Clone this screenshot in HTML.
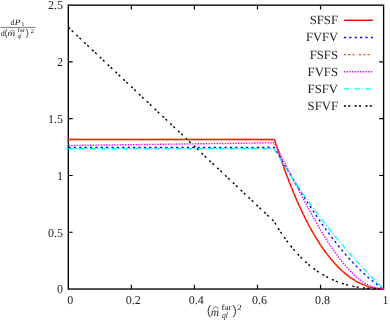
<!DOCTYPE html>
<html><head><meta charset="utf-8"><style>
html,body{margin:0;padding:0;background:#fff;}
body{width:390px;height:320px;position:relative;overflow:hidden;}
svg text{font-family:"Liberation Serif",serif;fill:#1a1a1a;}
svg text.t{font-size:12px;fill:#222;}
svg text.lg{font-size:12.6px;fill:#222;}
svg .lab text{fill:#222;}
</style></head><body>
<svg width="390" height="320" viewBox="0 0 390 320" style="position:absolute;left:0;top:0;will-change:transform;text-rendering:geometricPrecision">
<rect width="390" height="320" fill="#fff"/>
<rect x="68.3" y="5.15" width="315.30" height="283.90" fill="none" stroke="#000" stroke-width="1.35"/>
<text x="70.20" y="304.1" text-anchor="middle" class="t">0</text>
<text x="133.26" y="304.1" text-anchor="middle" class="t">0.2</text>
<text x="196.32" y="304.1" text-anchor="middle" class="t">0.4</text>
<text x="259.38" y="304.1" text-anchor="middle" class="t">0.6</text>
<text x="322.44" y="304.1" text-anchor="middle" class="t">0.8</text>
<text x="385.50" y="304.1" text-anchor="middle" class="t">1</text>
<text x="62.9" y="293.35" text-anchor="end" class="t">0</text>
<text x="62.9" y="236.57" text-anchor="end" class="t">0.5</text>
<text x="62.9" y="179.79" text-anchor="end" class="t">1</text>
<text x="62.9" y="123.01" text-anchor="end" class="t">1.5</text>
<text x="62.9" y="66.23" text-anchor="end" class="t">2</text>
<text x="62.9" y="9.45" text-anchor="end" class="t">2.5</text>
<path d="M131.36,289.05 v-4.4 M131.36,5.15 v4.4 M194.42,289.05 v-4.4 M194.42,5.15 v4.4 M257.48,289.05 v-4.4 M257.48,5.15 v4.4 M320.54,289.05 v-4.4 M320.54,5.15 v4.4 M68.3,232.27 h4.4 M383.6,232.27 h-4.4 M68.3,175.49 h4.4 M383.6,175.49 h-4.4 M68.3,118.71 h4.4 M383.6,118.71 h-4.4 M68.3,61.93 h4.4 M383.6,61.93 h-4.4" stroke="#000" stroke-width="1.2" fill="none"/>
<path d="M68.50,139.54 L274.51,139.54 L275.87,143.84 L277.23,148.06 L278.60,152.20 L279.96,156.26 L281.32,160.24 L282.68,164.14 L284.05,167.96 L285.41,171.71 L286.77,175.39 L288.13,178.99 L289.50,182.52 L290.86,185.97 L292.22,189.36 L293.58,192.67 L294.95,195.92 L296.31,199.09 L297.67,202.20 L299.03,205.24 L300.40,208.21 L301.76,211.12 L303.12,213.97 L304.48,216.75 L305.84,219.46 L307.21,222.12 L308.57,224.71 L309.93,227.24 L311.29,229.71 L312.66,232.12 L314.02,234.48 L315.38,236.77 L316.74,239.01 L318.11,241.19 L319.47,243.31 L320.83,245.37 L322.19,247.39 L323.56,249.34 L324.92,251.24 L326.28,253.09 L327.64,254.89 L329.00,256.63 L330.37,258.32 L331.73,259.96 L333.09,261.55 L334.45,263.09 L335.82,264.58 L337.18,266.02 L338.54,267.41 L339.90,268.75 L341.27,270.05 L342.63,271.29 L343.99,272.49 L345.35,273.65 L346.72,274.76 L348.08,275.82 L349.44,276.84 L350.80,277.81 L352.17,278.74 L353.53,279.62 L354.89,280.46 L356.25,281.26 L357.61,282.02 L358.98,282.73 L360.34,283.40 L361.70,284.03 L363.06,284.62 L364.43,285.17 L365.79,285.68 L367.15,286.15 L368.51,286.58 L369.88,286.97 L371.24,287.32 L372.60,287.64 L373.96,287.91 L375.33,288.15 L376.69,288.35 L378.05,288.51 L379.41,288.64 L380.78,288.73 L382.14,288.78 L383.50,288.80" fill="none" stroke="#ff0000" stroke-width="1.4" stroke-linejoin="round"/>
<path d="M68.50,147.54 L274.20,147.54 L275.56,149.86 L276.93,152.17 L278.29,154.48 L279.66,156.79 L281.03,159.10 L282.39,161.40 L283.76,163.70 L285.13,165.99 L286.49,168.27 L287.86,170.55 L289.22,172.82 L290.59,175.08 L291.96,177.33 L293.32,179.58 L294.69,181.81 L296.06,184.04 L297.42,186.26 L298.79,188.46 L300.15,190.66 L301.52,192.84 L302.89,195.01 L304.25,197.17 L305.62,199.31 L306.99,201.44 L308.35,203.56 L309.72,205.66 L311.09,207.75 L312.45,209.82 L313.82,211.88 L315.18,213.92 L316.55,215.95 L317.92,217.96 L319.28,219.95 L320.65,221.92 L322.02,223.88 L323.38,225.82 L324.75,227.74 L326.11,229.64 L327.48,231.52 L328.85,233.38 L330.21,235.23 L331.58,237.05 L332.95,238.85 L334.31,240.64 L335.68,242.40 L337.05,244.14 L338.41,245.86 L339.78,247.55 L341.14,249.23 L342.51,250.88 L343.88,252.51 L345.24,254.12 L346.61,255.70 L347.98,257.26 L349.34,258.80 L350.71,260.31 L352.07,261.80 L353.44,263.26 L354.81,264.70 L356.17,266.12 L357.54,267.50 L358.91,268.87 L360.27,270.20 L361.64,271.52 L363.01,272.80 L364.37,274.06 L365.74,275.29 L367.10,276.50 L368.47,277.68 L369.84,278.83 L371.20,279.95 L372.57,281.05 L373.94,282.12 L375.30,283.16 L376.67,284.17 L378.03,285.15 L379.40,286.11 L380.77,287.03 L382.13,287.93 L383.50,288.80" fill="none" stroke="#0000ff" stroke-width="1.4" stroke-dasharray="2.15,3.23" stroke-linejoin="round"/>
<path d="M68.50,139.54 L274.51,139.54 L275.87,143.84 L277.23,148.06 L278.60,152.20 L279.96,156.26 L281.32,160.24 L282.68,164.14 L284.05,167.96 L285.41,171.71 L286.77,175.39 L288.13,178.99 L289.50,182.52 L290.86,185.97 L292.22,189.36 L293.58,192.67 L294.95,195.92 L296.31,199.09 L297.67,202.20 L299.03,205.24 L300.40,208.21 L301.76,211.12 L303.12,213.97 L304.48,216.75 L305.84,219.46 L307.21,222.12 L308.57,224.71 L309.93,227.24 L311.29,229.71 L312.66,232.12 L314.02,234.48 L315.38,236.77 L316.74,239.01 L318.11,241.19 L319.47,243.31 L320.83,245.37 L322.19,247.39 L323.56,249.34 L324.92,251.24 L326.28,253.09 L327.64,254.89 L329.00,256.63 L330.37,258.32 L331.73,259.96 L333.09,261.55 L334.45,263.09 L335.82,264.58 L337.18,266.02 L338.54,267.41 L339.90,268.75 L341.27,270.05 L342.63,271.29 L343.99,272.49 L345.35,273.65 L346.72,274.76 L348.08,275.82 L349.44,276.84 L350.80,277.81 L352.17,278.74 L353.53,279.62 L354.89,280.46 L356.25,281.26 L357.61,282.02 L358.98,282.73 L360.34,283.40 L361.70,284.03 L363.06,284.62 L364.43,285.17 L365.79,285.68 L367.15,286.15 L368.51,286.58 L369.88,286.97 L371.24,287.32 L372.60,287.64 L373.96,287.91 L375.33,288.15 L376.69,288.35 L378.05,288.51 L379.41,288.64 L380.78,288.73 L382.14,288.78 L383.50,288.80" fill="none" stroke="#ff4d00" stroke-width="1.4" stroke-dasharray="2.15,2.15,2.15,2.15,2.15,4.31" stroke-linejoin="round"/>
<path d="M68.50,145.50 L274.20,142.79 L275.56,145.34 L276.93,147.91 L278.29,150.50 L279.66,153.10 L281.03,155.72 L282.39,158.35 L283.76,160.99 L285.13,163.63 L286.49,166.29 L287.86,168.94 L289.22,171.60 L290.59,174.26 L291.96,176.92 L293.32,179.58 L294.69,182.23 L296.06,184.88 L297.42,187.52 L298.79,190.16 L300.15,192.78 L301.52,195.39 L302.89,197.99 L304.25,200.58 L305.62,203.15 L306.99,205.70 L308.35,208.23 L309.72,210.75 L311.09,213.24 L312.45,215.72 L313.82,218.17 L315.18,220.59 L316.55,222.99 L317.92,225.36 L319.28,227.71 L320.65,230.02 L322.02,232.31 L323.38,234.56 L324.75,236.79 L326.11,238.98 L327.48,241.13 L328.85,243.25 L330.21,245.33 L331.58,247.38 L332.95,249.38 L334.31,251.35 L335.68,253.28 L337.05,255.16 L338.41,257.00 L339.78,258.80 L341.14,260.56 L342.51,262.27 L343.88,263.93 L345.24,265.55 L346.61,267.12 L347.98,268.65 L349.34,270.12 L350.71,271.54 L352.07,272.92 L353.44,274.24 L354.81,275.50 L356.17,276.72 L357.54,277.88 L358.91,278.99 L360.27,280.04 L361.64,281.04 L363.01,281.98 L364.37,282.86 L365.74,283.68 L367.10,284.45 L368.47,285.15 L369.84,285.80 L371.20,286.38 L372.57,286.90 L373.94,287.36 L375.30,287.76 L376.67,288.10 L378.03,288.37 L379.40,288.57 L380.77,288.72 L382.13,288.79 L383.50,288.80" fill="none" stroke="#ff00ff" stroke-width="1.4" stroke-dasharray="1.40,1.29" stroke-linejoin="round"/>
<path d="M68.50,148.82 L274.20,148.82 L275.56,151.13 L276.93,153.42 L278.29,155.69 L279.66,157.94 L281.03,160.17 L282.39,162.38 L283.76,164.58 L285.13,166.76 L286.49,168.93 L287.86,171.07 L289.22,173.20 L290.59,175.32 L291.96,177.41 L293.32,179.49 L294.69,181.56 L296.06,183.61 L297.42,185.64 L298.79,187.66 L300.15,189.66 L301.52,191.65 L302.89,193.62 L304.25,195.58 L305.62,197.53 L306.99,199.46 L308.35,201.37 L309.72,203.27 L311.09,205.16 L312.45,207.04 L313.82,208.90 L315.18,210.74 L316.55,212.58 L317.92,214.40 L319.28,216.21 L320.65,218.00 L322.02,219.79 L323.38,221.56 L324.75,223.31 L326.11,225.06 L327.48,226.79 L328.85,228.51 L330.21,230.22 L331.58,231.92 L332.95,233.61 L334.31,235.28 L335.68,236.95 L337.05,238.60 L338.41,240.24 L339.78,241.87 L341.14,243.49 L342.51,245.10 L343.88,246.70 L345.24,248.28 L346.61,249.86 L347.98,251.43 L349.34,252.98 L350.71,254.53 L352.07,256.06 L353.44,257.59 L354.81,259.10 L356.17,260.61 L357.54,262.11 L358.91,263.59 L360.27,265.07 L361.64,266.54 L363.01,267.99 L364.37,269.44 L365.74,270.88 L367.10,272.31 L368.47,273.74 L369.84,275.15 L371.20,276.55 L372.57,277.95 L373.94,279.33 L375.30,280.71 L376.67,282.08 L378.03,283.44 L379.40,284.79 L380.77,286.14 L382.13,287.47 L383.50,288.80" fill="none" stroke="#00ffff" stroke-width="1.4" stroke-dasharray="5.38,2.15,1.08,2.15" stroke-linejoin="round"/>
<path d="M68.50,27.50 L274.20,221.58 L275.56,223.90 L276.93,226.17 L278.29,228.37 L279.66,230.52 L281.03,232.62 L282.39,234.66 L283.76,236.64 L285.13,238.58 L286.49,240.46 L287.86,242.29 L289.22,244.07 L290.59,245.80 L291.96,247.49 L293.32,249.12 L294.69,250.72 L296.06,252.26 L297.42,253.76 L298.79,255.22 L300.15,256.64 L301.52,258.02 L302.89,259.35 L304.25,260.64 L305.62,261.90 L306.99,263.11 L308.35,264.29 L309.72,265.44 L311.09,266.54 L312.45,267.61 L313.82,268.65 L315.18,269.65 L316.55,270.61 L317.92,271.55 L319.28,272.45 L320.65,273.32 L322.02,274.16 L323.38,274.97 L324.75,275.75 L326.11,276.51 L327.48,277.23 L328.85,277.92 L330.21,278.59 L331.58,279.24 L332.95,279.85 L334.31,280.44 L335.68,281.01 L337.05,281.55 L338.41,282.06 L339.78,282.56 L341.14,283.03 L342.51,283.48 L343.88,283.91 L345.24,284.31 L346.61,284.70 L347.98,285.06 L349.34,285.40 L350.71,285.73 L352.07,286.04 L353.44,286.32 L354.81,286.59 L356.17,286.84 L357.54,287.08 L358.91,287.30 L360.27,287.50 L361.64,287.68 L363.01,287.85 L364.37,288.01 L365.74,288.15 L367.10,288.27 L368.47,288.39 L369.84,288.48 L371.20,288.57 L372.57,288.64 L373.94,288.70 L375.30,288.75 L376.67,288.78 L378.03,288.81 L379.40,288.82 L380.77,288.83 L382.13,288.82 L383.50,288.80" fill="none" stroke="#000000" stroke-width="1.4" stroke-dasharray="2.15,2.15,2.15,4.31" stroke-linejoin="round"/>
<path d="M343.9,20.30 L372.9,20.30" fill="none" stroke="#ff0000" stroke-width="1.4"/>
<text x="309.70" y="24.20" class="lg" textLength="28.3" lengthAdjust="spacingAndGlyphs">SFSF</text>
<path d="M343.9,37.45 L372.9,37.45" fill="none" stroke="#0000ff" stroke-width="1.4" stroke-dasharray="2.15,3.23"/>
<text x="306.00" y="41.35" class="lg" textLength="32.0" lengthAdjust="spacingAndGlyphs">FVFV</text>
<path d="M343.9,54.60 L372.9,54.60" fill="none" stroke="#ff4d00" stroke-width="1.4" stroke-dasharray="2.15,2.15,2.15,2.15,2.15,4.31"/>
<text x="309.70" y="58.50" class="lg" textLength="28.3" lengthAdjust="spacingAndGlyphs">FSFS</text>
<path d="M343.9,71.75 L372.9,71.75" fill="none" stroke="#ff00ff" stroke-width="1.4" stroke-dasharray="1.40,1.29"/>
<text x="307.60" y="75.65" class="lg" textLength="30.4" lengthAdjust="spacingAndGlyphs">FVFS</text>
<path d="M343.9,88.90 L372.9,88.90" fill="none" stroke="#00ffff" stroke-width="1.4" stroke-dasharray="5.38,2.15,1.08,2.15"/>
<text x="307.60" y="92.80" class="lg" textLength="30.4" lengthAdjust="spacingAndGlyphs">FSFV</text>
<path d="M343.9,106.05 L372.9,106.05" fill="none" stroke="#000000" stroke-width="1.4" stroke-dasharray="2.15,2.15,2.15,4.31"/>
<text x="307.60" y="109.95" class="lg" textLength="30.4" lengthAdjust="spacingAndGlyphs">SFVF</text>
<g class="lab">
<text x="10.4" y="25.2" font-size="8">d</text>
<text x="14.8" y="25.2" font-size="8" font-style="italic" textLength="5.6" lengthAdjust="spacingAndGlyphs">P</text>
<text x="21.4" y="26.4" font-size="5.8">1</text>
<path d="M0.5,27.4 H35.4" stroke="#111" stroke-width="0.55"/>
<text x="0.7" y="36.1" font-size="8">d</text>
<path d="M6.6,29.0 Q3.80,33.40 6.6,37.8" fill="none" stroke="#111" stroke-width="0.7"/>
<text x="7.3" y="36.1" font-size="8" font-style="italic" textLength="8.0" lengthAdjust="spacingAndGlyphs">m</text>
<path d="M9.9,31.5 L12.5,30.2 L15.1,31.5" stroke="#111" stroke-width="0.5" fill="none"/>
<text x="17.4" y="32.4" font-size="5.8" textLength="7.6" lengthAdjust="spacingAndGlyphs">far</text>
<text x="17.4" y="38.2" font-size="6.5" font-style="italic" textLength="4.0" lengthAdjust="spacingAndGlyphs">ql</text>
<path d="M26.6,29.0 Q29.40,33.40 26.6,37.8" fill="none" stroke="#111" stroke-width="0.7"/>
<text x="30.4" y="32.8" font-size="5.8" textLength="3.6" lengthAdjust="spacingAndGlyphs">2</text>
<path d="M210.2,305.2 Q206.00,311.25 210.2,317.3" fill="none" stroke="#111" stroke-width="0.9"/>
<text x="210.8" y="315.6" font-size="11.5" font-style="italic" textLength="8.3" lengthAdjust="spacingAndGlyphs">m</text>
<path d="M212.8,308.6 L215.7,306.5 L218.6,308.6" stroke="#111" stroke-width="0.65" fill="none"/>
<text x="221.6" y="309.8" font-size="8" textLength="9.8" lengthAdjust="spacingAndGlyphs">far</text>
<text x="222.0" y="317.5" font-size="9" font-style="italic" textLength="5.9" lengthAdjust="spacingAndGlyphs">ql</text>
<path d="M233.2,305.2 Q238.00,311.25 233.2,317.3" fill="none" stroke="#111" stroke-width="0.9"/>
<text x="237.0" y="310.2" font-size="8" textLength="4.8" lengthAdjust="spacingAndGlyphs">2</text>
</g>
</svg>
</body></html>
